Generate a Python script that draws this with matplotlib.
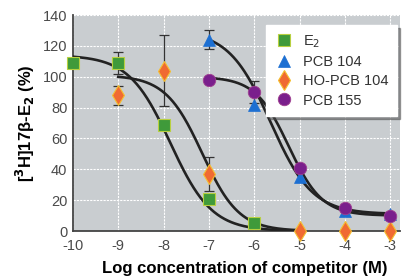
import numpy as np
import matplotlib
matplotlib.use("Agg")
import matplotlib.pyplot as plt
from matplotlib import font_manager

# ---- data ----
log_conc_e2 = [-10, -9, -8, -7, -6]
e2_vals = [109, 109, 69, 21, 5]
e2_err = [0, 7, 0, 0, 0]

log_conc_pcb104 = [-7, -6, -5, -4, -3]
pcb104_vals = [124, 82, 35, 13, 11]
pcb104_err = [6, 0, 0, 0, 0]

log_conc_ho = [-9, -8, -7, -5, -4, -3]
ho_vals = [88, 104, 37, 0, 0, 0]
ho_err = [6, 23, 11, 0, 0, 0]

log_conc_pcb155 = [-7, -6, -5, -4, -3]
pcb155_vals = [98, 90, 41, 15, 10]
pcb155_err = [0, 7, 0, 0, 0]

# fitted sigmoid parameters (top, bottom, logIC50, hill) and ranges
fit_e2 = (114, 0, -7.85, 0.95, -10, -5)
fit_ho = (101, 0, -7.15, 1.07, -9, -5)
fit_pcb104 = (130, 11, -5.64, 0.94, -7, -3)
fit_pcb155 = (100, 10, -5.24, 1.18, -7, -3)

xticks = [-10, -9, -8, -7, -6, -5, -4, -3]
yticks = [0, 20, 40, 60, 80, 100, 120, 140]

avail = {f.name for f in font_manager.fontManager.ttflist}
cond = 'Liberation Sans Narrow' if 'Liberation Sans Narrow' in avail else 'Liberation Sans'
plt.rcParams['font.family'] = [cond, 'DejaVu Sans']
plt.rcParams['axes.unicode_minus'] = False

fig = plt.figure(figsize=(4.10, 2.79), dpi=100)
ax = fig.add_axes([0.178, 0.172, 0.798, 0.774])
ax.set_facecolor('#c9cdd0')

def sig(p):
    top, bot, c, h, x0, x1 = p
    x = np.linspace(x0, x1, 200)
    return x, bot + (top - bot) / (1 + 10 ** ((x - c) * h))

for p in (fit_e2, fit_ho, fit_pcb104, fit_pcb155):
    x, y = sig(p)
    ax.plot(x, y, color='#222222', lw=1.9, zorder=3)

def errs(xs, ys, es):
    for x, y, e in zip(xs, ys, es):
        if e > 0:
            ax.errorbar([x], [y], yerr=[e], fmt='none', ecolor='#333333',
                        elinewidth=0.9, capsize=3.5, capthick=0.9, zorder=2)

errs(log_conc_e2, e2_vals, e2_err)
errs(log_conc_pcb104, pcb104_vals, pcb104_err)
errs(log_conc_ho, ho_vals, ho_err)
errs(log_conc_pcb155, pcb155_vals, pcb155_err)

ax.plot(log_conc_e2, e2_vals, 's', ms=8.5, color='#3f9a3a', mec='#b8d040', mew=0.8,
        label=r'E$_2$', zorder=4, clip_on=False)
ax.plot(log_conc_pcb104, pcb104_vals, '^', ms=8.5, color='#1c6fd2', mec='#1c6fd2', mew=0.5,
        label='PCB 104', zorder=4, clip_on=False)
ax.plot(log_conc_ho, ho_vals, 'd', ms=10, color='#f06a32', mec='#f5c030', mew=0.8,
        label='HO-PCB 104', zorder=4, clip_on=False)
ax.plot(log_conc_pcb155, pcb155_vals, 'o', ms=9, color='#7a1f8c', mec='#a04090', mew=0.6,
        label='PCB 155', zorder=4, clip_on=False)

ax.set_xlim(-10, -2.78)
ax.set_ylim(0, 140)
ax.set_xticks(xticks)
ax.set_yticks(yticks)
ax.grid(True, color='white', lw=0.8, ls=(0, (2, 1)))
ax.set_axisbelow(True)
ax.tick_params(length=0, labelsize=10.5, labelcolor='#4a4a4a')
ax.tick_params(axis='x', pad=6)
ax.tick_params(axis='y', pad=4)
for s in ('top', 'right'):
    ax.spines[s].set_visible(False)
for s in ('left', 'bottom'):
    ax.spines[s].set_color('#444444')
    ax.spines[s].set_linewidth(1.3)

ax.set_xlabel('Log concentration of competitor (M)', fontsize=12, fontweight='bold',
              color='black')
ax.xaxis.set_label_coords(0.525, -0.14)
ax.set_ylabel(r'[$^{\mathbf{3}}$H]17β-E$_{\mathbf{2}}$ (%)', fontsize=12, fontweight='bold',
              color='black', labelpad=4)

leg = ax.legend(loc='upper right', bbox_to_anchor=(0.99, 0.955), frameon=True, shadow=True,
                fancybox=False, framealpha=1, edgecolor='white', fontsize=10.5,
                handletextpad=0.7, labelspacing=0.35, borderpad=0.6, handlelength=1.2,
                borderaxespad=0)
for t in leg.get_texts():
    t.set_color('#333333')

fig.savefig('out.png', dpi=100, facecolor='white')
